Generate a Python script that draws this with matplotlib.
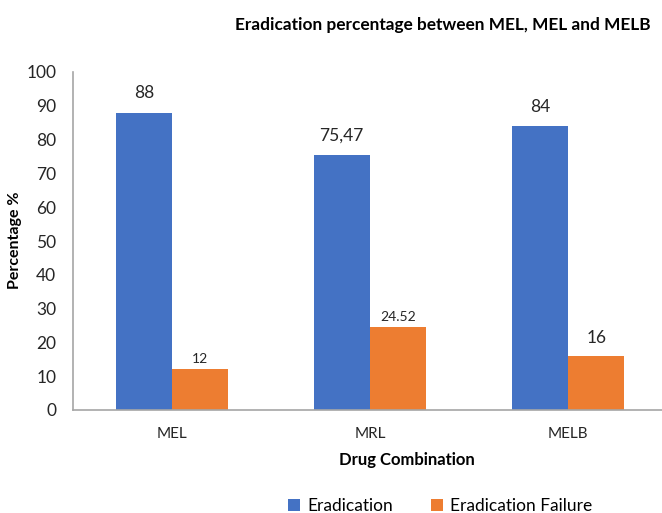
import matplotlib
matplotlib.use("Agg")
import matplotlib.pyplot as plt
import numpy as np

categories = ["MEL", "MRL", "MELB"]
eradication = [88, 75.47, 84]
failure = [12, 24.52, 16]
eradication_labels = ["88", "75,47", "84"]
failure_labels = ["12", "24.52", "16"]
failure_label_sizes = [10, 10, 12.5]
yticks = list(range(0, 101, 10))

BLUE = "#4472C4"
ORANGE = "#ED7D31"
AXIS_GREY = "#A6A6A6"

plt.rcParams["font.family"] = ["Lato", "DejaVu Sans"]

W, H = 662, 513
fig = plt.figure(figsize=(W / 100, H / 100), dpi=100)
ax = fig.add_axes([73 / W, (H - 410) / H, (W - 73) / W, (410 - 72) / H])

x = np.arange(len(categories))
bw = 0.285
ax.bar(x - bw / 2, eradication, bw, color=BLUE, label="Eradication")
ax.bar(x + bw / 2, failure, bw, color=ORANGE, label="Eradication Failure")

for xi, v, lab in zip(x, eradication, eradication_labels):
    ax.annotate(lab, (xi - bw / 2, v), xytext=(0, 8), textcoords="offset points",
                ha="center", va="bottom", fontsize=12.5, color="#262626")
for xi, v, lab, fs in zip(x, failure, failure_labels, failure_label_sizes):
    ax.annotate(lab, (xi + bw / 2, v), xytext=(0, 3 if fs < 11 else 7),
                textcoords="offset points", ha="center", va="bottom",
                fontsize=fs, color="#262626")

ax.set_xlim(-0.5, (W - 172) / 198)
ax.set_ylim(0, 100)
ax.set_yticks(yticks)
ax.set_yticklabels([str(t) for t in yticks], fontsize=12.5, color="#262626")
ax.set_xticks(x)
ax.set_xticklabels(categories, fontsize=11, color="#262626")
ax.tick_params(axis="both", length=0)
ax.tick_params(axis="y", pad=12)
ax.tick_params(axis="x", pad=12)

for s in ["top", "right"]:
    ax.spines[s].set_visible(False)
for s in ["left", "bottom"]:
    ax.spines[s].set_color(AXIS_GREY)
    ax.spines[s].set_linewidth(1.2)

fig.text(235 / W, 1 - 25 / H, "Eradication percentage between MEL, MEL and MELB",
         ha="left", va="center", fontsize=12.4, fontweight="bold", color="#000000")
fig.text(15 / W, 1 - 240 / H, "Percentage %", rotation=90, ha="center", va="center",
         fontsize=11.5, fontweight="bold", color="#000000")
fig.text(407 / W, 1 - 460 / H, "Drug Combination", ha="center", va="center",
         fontsize=12, fontweight="bold", color="#000000")

handles, labels = ax.get_legend_handles_labels()
fig.legend(handles, labels, loc="center", bbox_to_anchor=(440 / W, 1 - 506 / H),
           ncol=2, frameon=False, fontsize=12.5, handlelength=0.7, handleheight=0.7,
           handletextpad=0.4, columnspacing=2.2)

fig.savefig("out.png", dpi=100)
